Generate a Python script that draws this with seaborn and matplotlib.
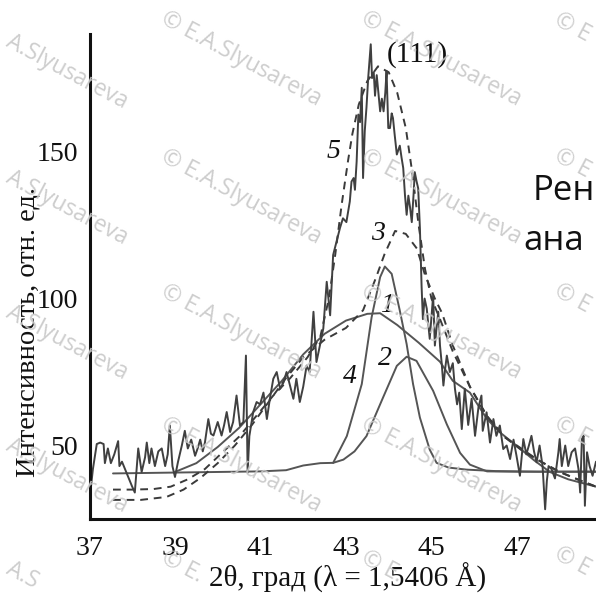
import matplotlib
matplotlib.use("Agg")
import matplotlib.pyplot as plt
import seaborn as sns
import numpy as np

# ---------------- data ----------------
# experimental pattern (solid noisy)
exp_x = [37.01, 37.08, 37.17, 37.25, 37.33, 37.36, 37.43, 37.50, 37.58, 37.67, 37.70, 37.76, 37.83, 37.90,
         37.99, 38.06, 38.14, 38.22, 38.30, 38.34, 38.40, 38.45, 38.53, 38.61, 38.69, 38.77, 38.83, 38.88,
         38.94, 39.00, 39.07, 39.16, 39.23, 39.30, 39.38, 39.47, 39.53, 39.59, 39.65, 39.70, 39.78, 39.84,
         39.90, 40.00, 40.09, 40.15, 40.21, 40.29, 40.36, 40.44, 40.52, 40.60, 40.66, 40.70, 40.74, 40.83,
         40.91, 40.99, 41.07, 41.15, 41.22, 41.30, 41.38, 41.46, 41.54, 41.61, 41.69, 41.77, 41.84, 41.92,
         42.00, 42.08, 42.15, 42.24, 42.31, 42.39, 42.47, 42.55, 42.63, 42.70, 42.78, 42.86, 42.93, 43.01,
         43.09, 43.13, 43.18, 43.21, 43.25, 43.29, 43.33, 43.37, 43.40, 43.44, 43.48, 43.52, 43.58, 43.61,
         43.65, 43.68, 43.72, 43.76, 43.80, 43.84, 43.88, 43.92, 43.95, 43.99, 44.03, 44.07, 44.10, 44.14,
         44.19, 44.26, 44.30, 44.34, 44.38, 44.42, 44.46, 44.50, 44.54, 44.58, 44.61, 44.65, 44.69, 44.73,
         44.77, 44.80, 44.84, 44.89, 44.96, 45.04, 45.08, 45.12, 45.16, 45.20, 45.24, 45.28, 45.32, 45.36,
         45.43, 45.50, 45.55, 45.60, 45.65, 45.71, 45.78, 45.86, 45.94, 46.02, 46.10, 46.17, 46.20, 46.29,
         46.37, 46.45, 46.52, 46.60, 46.68, 46.76, 46.84, 46.92, 46.99, 47.07, 47.15, 47.22, 47.28, 47.34,
         47.40, 47.46, 47.53, 47.60, 47.66, 47.70, 47.74, 47.81, 47.89, 47.97, 48.00, 48.05, 48.13, 48.20,
         48.28, 48.36, 48.44, 48.48, 48.52, 48.56, 48.59, 48.64, 48.70, 48.77, 48.85]
exp_y = [32.8, 42.0, 50.5, 51.0, 50.5, 44.0, 49.0, 44.0, 47.0, 51.5, 43.0, 44.5, 42.0, 39.6,
         36.3, 34.0, 49.0, 41.0, 46.0, 51.0, 44.0, 49.0, 43.0, 48.0, 49.0, 43.0, 47.0, 56.8,
         43.0, 39.3, 44.4, 50.0, 55.0, 49.0, 52.0, 46.5, 49.0, 52.0, 48.0, 51.0, 59.0, 54.0,
         53.4, 58.0, 53.4, 57.0, 61.4, 54.6, 58.0, 67.0, 56.8, 58.0, 80.6, 40.8, 53.2, 61.4,
         64.8, 64.0, 68.0, 59.0, 65.9, 72.7, 75.0, 69.3, 71.5, 75.0, 70.5, 65.9, 72.7, 64.8,
         70.0, 77.2, 75.0, 95.5, 78.4, 84.0, 89.8, 105.7, 94.3, 114.8, 119.4, 124.0, 127.3, 126.0,
         133.0, 139.8, 141.0, 137.0, 146.6, 162.6, 160.0, 171.7, 141.0, 157.0, 165.0, 175.0, 186.5, 175.0,
         177.0, 169.0, 176.0, 170.0, 163.7, 168.0, 163.7, 170.0, 177.4, 158.0, 158.0, 163.0, 161.4, 155.7,
         149.0, 152.0, 148.0, 144.4, 135.3, 128.5, 135.0, 131.0, 126.0, 135.0, 143.0, 140.0, 137.5, 124.0,
         104.0, 93.0, 100.0, 96.6, 86.3, 101.0, 84.0, 90.0, 95.5, 84.0, 78.0, 70.4, 76.0, 80.6,
         75.0, 78.0, 69.3, 64.0, 68.0, 55.6, 69.3, 57.0, 65.9, 53.3, 63.0, 67.0, 55.0, 61.3,
         51.0, 59.0, 53.3, 56.8, 48.8, 50.0, 45.4, 52.0, 46.5, 39.7, 52.2, 47.0, 50.0, 53.3,
         48.0, 44.3, 50.0, 43.0, 28.3, 38.0, 43.0, 42.0, 38.8, 47.7, 52.2, 43.0, 50.0, 43.0,
         47.7, 49.0, 42.0, 34.0, 52.2, 53.3, 29.5, 47.7, 43.0, 39.7, 44.5]

# curve 1 (broad component)
c1_x = [39.0, 39.5, 40.0, 40.5, 41.0, 41.5, 42.0, 42.5, 43.0, 43.5, 43.8, 44.2, 44.7, 45.2,
        45.5, 45.9, 46.3, 46.6, 47.07, 47.4, 47.77, 48.2, 48.85]
c1_y = [41.0, 44.0, 49.5, 56.0, 64.0, 72.0, 81.0, 88.0, 92.5, 94.8, 95.0, 91.0, 85.0, 78.5,
        72.0, 68.0, 59.0, 54.5, 49.0, 45.0, 41.0, 38.5, 36.0]

# curve 4 (narrow component, on flat baseline)
c4_x = [37.55, 39.0, 40.0, 41.0, 41.6, 42.0, 42.4, 42.70, 43.02, 43.37, 43.60, 43.80, 43.91, 44.07,
        44.26, 44.42, 44.57, 44.73, 44.96, 45.12, 45.4, 45.82, 46.5, 47.5, 48.85]
c4_y = [40.5, 40.8, 41.0, 41.2, 41.6, 43.2, 44.0, 44.1, 53.2, 70.9, 93.6, 107.3, 110.9, 108.4,
        95.9, 84.5, 70.9, 59.5, 48.6, 44.1, 42.5, 41.8, 41.3, 41.1, 41.1]

# curve 2 (medium component)
c2_x = [42.70, 42.94, 43.20, 43.48, 43.87, 44.19, 44.42, 44.65, 45.04, 45.36, 45.67, 45.90,
        46.3, 47.0, 48.0, 48.85]
c2_y = [44.1, 45.2, 48.0, 53.2, 66.4, 77.1, 80.2, 78.8, 68.6, 57.2, 47.5, 43.5,
        41.2, 41.1, 41.1, 41.1]

# curve 3 (dashed, 1 + 2)
c3_x = [37.55, 38.2, 38.8, 39.2, 39.6, 40.0, 40.4, 40.8, 41.2, 41.6, 42.0, 42.5, 43.0, 43.4,
        43.7, 43.9, 44.15, 44.4, 44.66, 44.85, 45.08, 45.25, 45.5, 45.9, 46.3, 46.7, 47.1, 47.5,
        48.0, 48.5, 48.85]
c3_y = [31.5, 31.5, 32.5, 35.0, 39.0, 44.0, 50.0, 57.0, 65.0, 73.0, 80.0, 86.0, 90.0, 96.0,
        107.0, 115.0, 123.0, 122.0, 117.0, 108.0, 100.0, 95.0, 84.0, 70.0, 60.0, 53.0, 49.0, 45.0,
        41.0, 38.0, 36.0]

# curve 5 (dashed, total fit)
c5_x = [37.55, 38.0, 38.5, 38.9, 39.3, 39.7, 40.1, 40.5, 40.9, 41.3, 41.7, 42.1, 42.4, 42.6,
        42.75, 42.9, 43.05, 43.15, 43.3, 43.5, 43.75, 44.0, 44.2, 44.4, 44.55, 44.7, 44.85, 45.0,
        45.2, 45.5, 45.9, 46.3, 46.7, 47.1, 47.5, 48.0, 48.5, 48.85]
c5_y = [35.0, 35.0, 35.2, 36.0, 38.5, 42.0, 47.5, 53.0, 60.0, 67.0, 73.0, 80.0, 87.0, 100.0,
        115.0, 132.0, 147.0, 156.0, 166.0, 174.0, 179.0, 177.0, 170.0, 158.0, 143.0, 125.0, 110.0, 100.0,
        93.0, 82.0, 70.0, 60.0, 53.0, 48.5, 45.0, 41.0, 38.0, 36.0]

x_ticks = [37, 39, 41, 43, 45, 47]
y_ticks = [50, 100, 150, 187]
y_ticklabels = ["50", "100", "150", ""]

curve_labels = ["5", "3", "1", "2", "4"]
curve_label_x = [42.70, 43.75, 43.96, 43.91, 43.08]
curve_label_y = [150.0, 122.0, 97.6, 79.5, 73.5]

# watermark pieces visible in the picture (text, anchor px x, anchor px y)
wm_texts = ["A.Slyusareva", "A.Slyusareva", "A.Slyusareva", "A.Slyusareva", "A.S",
            "\u00a9 E.A.Slyusareva", "\u00a9 E.A.Slyusareva", "\u00a9 E.A.Slyusareva",
            "\u00a9 E.A.Slyusareva", "\u00a9 E.",
            "\u00a9 E.A.Slyusareva", "\u00a9 E.A.Slyusareva", "\u00a9 E.A.Slyusareva",
            "\u00a9 E.A.Slyusareva", "\u00a9 E.",
            "\u00a9 E", "\u00a9 E", "\u00a9 E", "\u00a9 E", "\u00a9 E"]
wm_px = [8, 8, 8, 8, 8,
         163, 163, 163, 163, 163,
         363, 363, 363, 363, 363,
         556, 556, 556, 556, 556]
wm_py = [40, 176, 311, 444, 568,
         17, 155, 290, 423, 557,
         17, 155, 290, 423, 557,
         19, 155, 290, 423, 553]

# ---------------- style ----------------
sns.set_style("white")
serif = ["Liberation Serif", "DejaVu Serif"]
plt.rcParams["font.family"] = serif

W = H = 596
fig = plt.figure(figsize=(W / 100, H / 100), dpi=100)
ax = fig.add_axes([89.5 / W, 1 - 519 / H, 1 - 89.5 / W, (519 - 34) / H])

line_c = "#555555"
sns.lineplot(x=c1_x, y=c1_y, ax=ax, color=line_c, lw=1.4, sort=False, estimator=None)
sns.lineplot(x=c4_x, y=c4_y, ax=ax, color=line_c, lw=1.4, sort=False, estimator=None)
sns.lineplot(x=c2_x, y=c2_y, ax=ax, color=line_c, lw=1.4, sort=False, estimator=None)
sns.lineplot(x=c3_x, y=c3_y, ax=ax, color="#3a3a3a", lw=1.4, sort=False, estimator=None,
             linestyle=(0, (4, 3)))
sns.lineplot(x=c5_x, y=c5_y, ax=ax, color="#3a3a3a", lw=1.4, sort=False, estimator=None,
             linestyle=(0, (4, 3)))
sns.lineplot(x=exp_x, y=exp_y, ax=ax, color="#404040", lw=1.4, sort=False, estimator=None)

ax.set_xlim(37, 48.85)
ax.set_ylim(25, 190)
ax.set_xticks(x_ticks)
ax.set_yticks(y_ticks)
ax.set_yticklabels(y_ticklabels)
ax.set_xlabel("")
ax.set_ylabel("")
for s in ["top", "right"]:
    ax.spines[s].set_visible(False)
for s in ["left", "bottom"]:
    ax.spines[s].set_linewidth(2.2)
    ax.spines[s].set_color("#111111")
ax.tick_params(direction="in", length=10, width=1.5, colors="#111111", labelsize=20)
ax.tick_params(axis="x", pad=12)
ax.tick_params(axis="y", pad=8)
for t in ax.get_xticklabels() + ax.get_yticklabels():
    t.set_fontfamily(serif)

for lab, lx, ly in zip(curve_labels, curve_label_x, curve_label_y):
    ax.text(lx, ly, lab, fontsize=20, fontstyle="italic", ha="center", va="center",
            color="#111111", family=serif)
ax.text(44.68, 183.0, "(111)", fontsize=21, ha="center", va="center", color="#111111", family=serif)

fig.text(348 / W, 1 - 578 / H, "2\u03b8, град (\u03bb = 1,5406 \u00c5)", fontsize=21,
         ha="center", va="center", family=serif, color="#111111")
fig.text(28 / W, 1 - 332 / H, "Интенсивность, отн. ед.", fontsize=20.5, rotation=90,
         ha="center", va="center", family=serif, color="#111111")

# slide text fragments at the right edge
sans = ["Open Sans", "DejaVu Sans"]
fig.text(533 / W, 1 - 200 / H, "Рен", fontsize=25, ha="left", va="baseline", family=sans, color="#111111")
fig.text(523 / W, 1 - 250 / H, "ана", fontsize=25, ha="left", va="baseline", family=sans, color="#111111")

# watermarks
for txt, px, py in zip(wm_texts, wm_px, wm_py):
    fig.text(px / W, 1 - py / H, txt, fontsize=16.5, rotation=-28, rotation_mode="anchor",
             ha="left", va="center", family=sans, color="#c8c8c8", alpha=0.9)

fig.savefig("out.png", dpi=100)
